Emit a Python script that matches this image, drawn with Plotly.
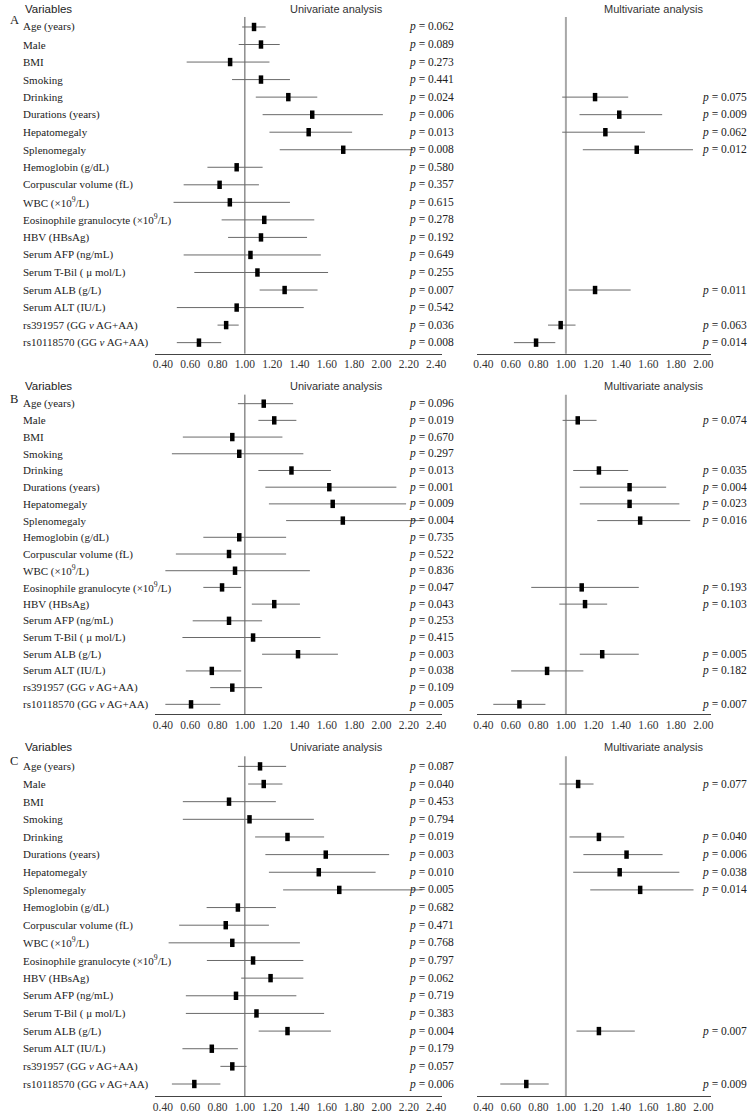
import plotly.graph_objects as go

W, H = 753, 1113

variables = [
    "Age (years)", "Male", "BMI", "Smoking", "Drinking", "Durations (years)",
    "Hepatomegaly", "Splenomegaly", "Hemoglobin (g/dL)", "Corpuscular volume (fL)",
    "WBC (×10<sup>9</sup>/L)", "Eosinophile granulocyte (×10<sup>9</sup>/L)", "HBV (HBsAg)",
    "Serum AFP (ng/mL)", "Serum T-Bil ( μ mol/L)", "Serum ALB (g/L)", "Serum ALT (IU/L)",
    "rs391957 (GG <i>v</i> AG+AA)", "rs10118570 (GG <i>v</i> AG+AA)",
]

uni_ticks = [0.4, 0.6, 0.8, 1.0, 1.2, 1.4, 1.6, 1.8, 2.0, 2.2, 2.4]
multi_ticks = [0.4, 0.6, 0.8, 1.0, 1.2, 1.4, 1.6, 1.8, 2.0]

# ---------------- Panel A ----------------
uni_or_A = [1.067, 1.118, 0.892, 1.118, 1.318, 1.493, 1.467, 1.720, 0.940, 0.815,
            0.890, 1.142, 1.118, 1.041, 1.092, 1.291, 0.940, 0.863, 0.664]
uni_lo_A = [0.980, 0.955, 0.574, 0.906, 1.080, 1.130, 1.180, 1.255, 0.726, 0.552,
            0.478, 0.830, 0.877, 0.552, 0.630, 1.108, 0.502, 0.800, 0.502]
uni_hi_A = [1.152, 1.255, 1.180, 1.330, 1.530, 2.010, 1.785, 2.230, 1.130, 1.103,
            1.330, 1.508, 1.455, 1.556, 1.609, 1.532, 1.431, 0.955, 0.827]
uni_p_A = ["0.062", "0.089", "0.273", "0.441", "0.024", "0.006", "0.013", "0.008", "0.580",
           "0.357", "0.615", "0.278", "0.192", "0.649", "0.255", "0.007", "0.542", "0.036", "0.008"]
multi_rows_A = [4, 5, 6, 7, 15, 17, 18]
multi_or_A = [1.212, 1.388, 1.287, 1.515, 1.212, 0.962, 0.783]
multi_lo_A = [0.973, 1.099, 0.973, 1.123, 1.020, 0.870, 0.622]
multi_hi_A = [1.453, 1.700, 1.575, 1.924, 1.471, 1.070, 0.923]
multi_p_A = ["0.075", "0.009", "0.062", "0.012", "0.011", "0.063", "0.014"]

# ---------------- Panel B ----------------
uni_or_B = [1.138, 1.215, 0.908, 0.959, 1.341, 1.618, 1.643, 1.717, 0.959, 0.884,
            0.928, 0.833, 1.215, 0.884, 1.060, 1.389, 0.758, 0.908, 0.606]
uni_lo_B = [0.949, 1.099, 0.546, 0.466, 1.099, 1.150, 1.176, 1.302, 0.696, 0.495,
            0.418, 0.696, 1.051, 0.618, 0.543, 1.126, 0.568, 0.746, 0.418]
uni_hi_B = [1.353, 1.377, 1.275, 1.428, 1.630, 2.109, 2.180, 2.300, 1.302, 1.302,
            1.476, 0.973, 1.403, 1.126, 1.553, 1.681, 0.973, 1.126, 0.821]
uni_p_B = ["0.096", "0.019", "0.670", "0.297", "0.013", "0.001", "0.009", "0.004", "0.735",
           "0.522", "0.836", "0.047", "0.043", "0.253", "0.415", "0.003", "0.038", "0.109", "0.005"]
multi_rows_B = [1, 4, 5, 6, 7, 11, 12, 15, 16, 18]
multi_or_B = [1.086, 1.240, 1.463, 1.463, 1.540, 1.115, 1.139, 1.264, 0.863, 0.662]
multi_lo_B = [0.976, 1.053, 1.101, 1.101, 1.228, 0.748, 0.952, 1.101, 0.602, 0.472]
multi_hi_B = [1.223, 1.453, 1.729, 1.825, 1.904, 1.530, 1.300, 1.530, 1.127, 0.851]
multi_p_B = ["0.074", "0.035", "0.004", "0.023", "0.016", "0.193", "0.103", "0.005", "0.182", "0.007"]

# ---------------- Panel C ----------------
uni_or_C = [1.111, 1.138, 0.884, 1.034, 1.312, 1.592, 1.541, 1.691, 0.949, 0.860,
            0.908, 1.060, 1.188, 0.935, 1.085, 1.312, 0.758, 0.908, 0.630]
uni_lo_C = [0.949, 1.024, 0.546, 0.546, 1.075, 1.150, 1.176, 1.280, 0.720, 0.519,
            0.442, 0.722, 0.973, 0.568, 0.568, 1.101, 0.543, 0.821, 0.466]
uni_hi_C = [1.302, 1.275, 1.227, 1.505, 1.580, 2.056, 1.957, 2.300, 1.227, 1.176,
            1.403, 1.428, 1.428, 1.377, 1.580, 1.630, 0.949, 1.012, 0.821]
uni_p_C = ["0.087", "0.040", "0.453", "0.794", "0.019", "0.003", "0.010", "0.005", "0.682",
           "0.471", "0.768", "0.797", "0.062", "0.719", "0.383", "0.004", "0.179", "0.057", "0.006"]
multi_rows_C = [1, 4, 5, 6, 7, 15, 18]
multi_or_C = [1.089, 1.240, 1.441, 1.391, 1.540, 1.240, 0.712]
multi_lo_C = [0.952, 1.026, 1.127, 1.053, 1.177, 1.077, 0.523]
multi_hi_C = [1.201, 1.424, 1.703, 1.825, 1.928, 1.501, 0.875]
multi_p_C = ["0.077", "0.040", "0.006", "0.038", "0.014", "0.007", "0.009"]

panels = [
    dict(letter="A", uni=(uni_or_A, uni_lo_A, uni_hi_A, uni_p_A),
         multi=(multi_rows_A, multi_or_A, multi_lo_A, multi_hi_A, multi_p_A)),
    dict(letter="B", uni=(uni_or_B, uni_lo_B, uni_hi_B, uni_p_B),
         multi=(multi_rows_B, multi_or_B, multi_lo_B, multi_hi_B, multi_p_B)),
    dict(letter="C", uni=(uni_or_C, uni_lo_C, uni_hi_C, uni_p_C),
         multi=(multi_rows_C, multi_or_C, multi_lo_C, multi_hi_C, multi_p_C)),
]

# ---------------- layout geometry (pixels) ----------------
geo = [
    dict(top=17, bot=354, r0=-0.57, r1=18.63, title=9, letter=20),
    dict(top=395, bot=715, r0=-0.54, r1=18.60, title=386, letter=399),
    dict(top=757, bot=1097, r0=-0.57, r1=18.68, title=748, letter=762),
]
UNI_DOM = (153, 443)
UNI_RANGE = (0.345, 2.445)
MUL_DOM = (478, 715)
MUL_RANGE = (0.353, 2.058)


def px(x):
    return x / W


def py(y):
    return 1 - y / H


SERIF = "Liberation Serif, Times New Roman, serif"
SANS = "Liberation Sans, Arial, sans-serif"

fig = go.Figure()
layout = dict(
    width=W, height=H, margin=dict(l=0, r=0, t=0, b=0),
    paper_bgcolor="white", plot_bgcolor="white", showlegend=False,
)
annotations = []
shapes = []

ci_color = "#6a6a6a"
LBL = 11
PFS = 11.5

for i, (pan, g) in enumerate(zip(panels, geo)):
    xu = 2 * i + 1
    xm = 2 * i + 2
    xu_name = "xaxis" if xu == 1 else f"xaxis{xu}"
    yu_name = "yaxis" if xu == 1 else f"yaxis{xu}"
    xm_name = f"xaxis{xm}"
    ym_name = f"yaxis{xm}"
    xu_ref = "x" if xu == 1 else f"x{xu}"
    yu_ref = "y" if xu == 1 else f"y{xu}"
    xm_ref = f"x{xm}"
    ym_ref = f"y{xm}"
    ydom = [py(g["bot"]), py(g["top"])]

    common_x = dict(
        showline=True, linecolor="#444", linewidth=1, showgrid=False, zeroline=False,
        tickformat=".2f", ticks="", ticklabelstandoff=0,
        tickfont=dict(family=SERIF, size=11.5, color="#333"),
        fixedrange=True,
    )
    layout[xu_name] = dict(common_x, domain=[px(UNI_DOM[0]), px(UNI_DOM[1])],
                           range=list(UNI_RANGE), tickvals=uni_ticks, anchor=yu_ref)
    layout[xm_name] = dict(common_x, domain=[px(MUL_DOM[0]), px(MUL_DOM[1])],
                           range=list(MUL_RANGE), tickvals=multi_ticks, anchor=ym_ref)
    common_y = dict(visible=False, range=[g["r1"], g["r0"]], domain=ydom, fixedrange=True)
    layout[yu_name] = dict(common_y, anchor=xu_ref)
    layout[ym_name] = dict(common_y, anchor=xm_ref)

    shapes.append(dict(type="line", xref=xu_ref, yref=f"{yu_ref} domain", x0=1, x1=1, y0=0, y1=1,
                       line=dict(color="#555", width=1), layer="below"))
    shapes.append(dict(type="line", xref=xm_ref, yref=f"{ym_ref} domain", x0=1, x1=1, y0=0, y1=1,
                       line=dict(color="#a8a8a8", width=2), layer="below"))

    orv, lo, hi, pv = pan["uni"]
    rows = list(range(len(variables)))
    fig.add_trace(go.Scatter(
        x=orv, y=rows, mode="markers", xaxis=xu_ref, yaxis=yu_ref,
        marker=dict(symbol="line-ns", size=6, color="black", line=dict(color="black", width=4.5)),
        error_x=dict(type="data", symmetric=False,
                     array=[h - o for h, o in zip(hi, orv)],
                     arrayminus=[o - l for o, l in zip(orv, lo)],
                     color=ci_color, thickness=1, width=0),
        cliponaxis=False, hoverinfo="skip",
    ))
    for r, p in zip(rows, pv):
        annotations.append(dict(text=f"<i>p</i> = {p}", xref="paper", x=px(407), yref=yu_ref, y=r,
                                xanchor="left", yanchor="middle", showarrow=False,
                                font=dict(family=SERIF, size=PFS, color="#222")))
    mrows, morv, mlo, mhi, mpv = pan["multi"]
    fig.add_trace(go.Scatter(
        x=morv, y=mrows, mode="markers", xaxis=xm_ref, yaxis=ym_ref,
        marker=dict(symbol="line-ns", size=6, color="black", line=dict(color="black", width=4.5)),
        error_x=dict(type="data", symmetric=False,
                     array=[h - o for h, o in zip(mhi, morv)],
                     arrayminus=[o - l for o, l in zip(morv, mlo)],
                     color=ci_color, thickness=1, width=0),
        cliponaxis=False, hoverinfo="skip",
    ))
    for r, p in zip(mrows, mpv):
        annotations.append(dict(text=f"<i>p</i> = {p}", xref="paper", x=px(703), yref=ym_ref, y=r,
                                xanchor="left", yanchor="middle", showarrow=False,
                                font=dict(family=SERIF, size=PFS, color="#222")))

    for r, v in zip(rows, variables):
        annotations.append(dict(text=v, xref="paper", x=px(17), yref=yu_ref, y=r,
                                xanchor="left", yanchor="middle", showarrow=False,
                                font=dict(family=SERIF, size=LBL, color="#222")))
    annotations.append(dict(text="Variables", xref="paper", yref="paper", x=px(19), y=py(g["title"]),
                            xanchor="left", yanchor="middle", showarrow=False,
                            font=dict(family=SANS, size=11.5, color="#222")))
    annotations.append(dict(text="Univariate analysis", xref="paper", yref="paper", x=px(336),
                            y=py(g["title"]), xanchor="center", yanchor="middle", showarrow=False,
                            font=dict(family=SANS, size=11, color="#333")))
    annotations.append(dict(text="Multivariate analysis", xref="paper", yref="paper", x=px(657),
                            y=py(g["title"]), xanchor="center", yanchor="middle", showarrow=False,
                            font=dict(family=SANS, size=11, color="#333")))
    annotations.append(dict(text=pan["letter"], xref="paper", yref="paper", x=px(4), y=py(g["letter"]),
                            xanchor="left", yanchor="middle", showarrow=False,
                            font=dict(family=SERIF, size=12.5, color="#222")))

layout["annotations"] = annotations
layout["shapes"] = shapes
fig.update_layout(**layout)
fig.write_html(
    "out.html",
    config={"displayModeBar": False, "staticPlot": True},
    post_script="document.body.style.margin='0';document.body.style.overflow='hidden';",
)
